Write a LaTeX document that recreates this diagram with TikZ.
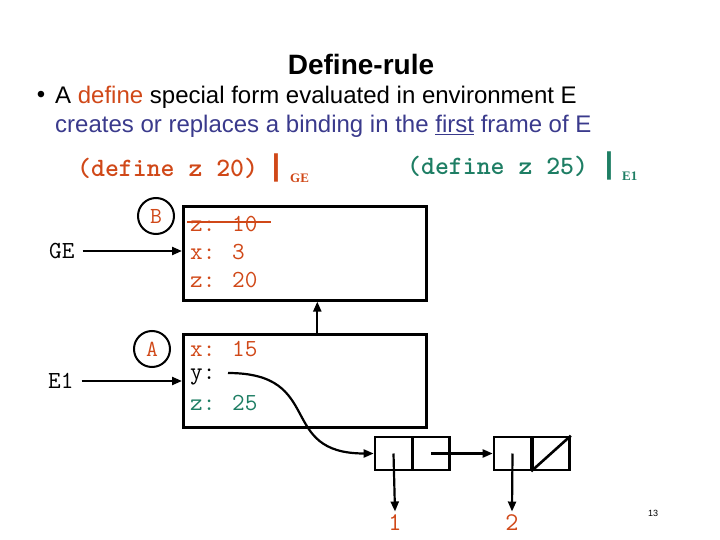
\documentclass[tikz,border=0pt]{standalone}
\usepackage{fontspec}
\setmainfont{Liberation Sans}
\newfontfamily\serifsub{Liberation Serif}
\usetikzlibrary{arrows.meta}
\definecolor{orng}{RGB}{208,72,24}
\definecolor{tealc}{RGB}{30,126,100}
\definecolor{blu}{RGB}{58,58,140}
\tikzset{
  txt/.style={inner sep=0pt, anchor=west},
  code/.style={txt, font=\fontsize{24.5}{26}\selectfont\ttfamily},
  codeb/.style={txt, font=\fontsize{26.5}{28}\selectfont\ttfamily\bfseries},
  frame/.style={draw, line width=2.6pt, anchor=north west, inner sep=0pt},
  cell/.style={draw, line width=2.6pt, minimum width=37pt, minimum height=33pt, inner sep=0pt},
  tag/.style={circle, draw, line width=2pt, minimum size=36pt, inner sep=0pt, text=orng, font=\fontsize{23}{24}\selectfont\ttfamily},
  arr/.style={line width=2.2pt, -{Triangle[length=10pt,width=8pt]}},
}
\begin{document}
\begin{tikzpicture}[x=1pt,y=-1pt]
\useasboundingbox (0,0) rectangle (720,540);
\node[font=\fontsize{28}{32}\selectfont\bfseries] (title) at (361,64) {Define-rule};
\node[font=\fontsize{24}{28}\selectfont] (bul) at (41,97) {\textbullet};
\node[txt, font=\fontsize{24}{28}\selectfont] (l1) at (55,97) {A \textcolor{orng}{define} special form evaluated in environment E};
\node[txt, font=\fontsize{24}{28}\selectfont, text=blu] (l2) at (55,126) {creates or replaces a binding in the \underline{first} frame of E};

\node[codeb, text=orng] (d1) at (77,168) {(define z 20)};
\node[font=\fontsize{30}{32}\selectfont\bfseries, text=orng, inner sep=0pt] (bar1) at (276,168) {|};
\node[txt, font=\fontsize{13}{14}\selectfont\serifsub\bfseries, text=orng] (ge1) at (290,178) {GE};
\node[codeb, text=tealc] (d2) at (407,166) {(define z 25)};
\node[font=\fontsize{30}{32}\selectfont\bfseries, text=tealc, inner sep=0pt] (bar2) at (609,166) {|};
\node[txt, font=\fontsize{13}{14}\selectfont\serifsub\bfseries, text=tealc] (e1s) at (622,176) {E1};

\node[frame, minimum width=243pt, minimum height=94pt] (ge) at (182,205) {};
\node[frame, minimum width=243pt, minimum height=93pt] (e1) at (182,333) {};

\node[tag] (B) at (156,216) {B};
\node[tag] (A) at (152,349) {A};

\node[code, text=orng] (z10) at (190,224) {z: 10};
\draw[orng, line width=2pt] (187,222.5) -- (271,222.5);
\node[code, text=orng] (x3) at (190,252) {x: 3};
\node[code, text=orng] (z20) at (190,280) {z: 20};

\node[code, text=orng] (x15) at (190,349) {x: 15};
\node[code] (yy) at (190,377) {y:};
\node[code, text=tealc] (z25) at (190,403) {z: 25};

\node[code] (gel) at (49,251) {GE};
\node[code] (e1l) at (48,381) {E1};
\draw[arr] (gel.east) ++(8,0) coordinate (gs) -- (gs -| ge.west);
\draw[arr] (e1l.east) ++(8,0) coordinate (es) -- (es -| e1.west);
\draw[arr] ([xshift=12.5pt]e1.north) -- ([xshift=12.5pt]ge.south);

\node[cell] (p1a) at (393.5,453.5) {};
\node[cell] (p1b) at (431,453.5) {};
\node[cell] (p2a) at (512.5,453.5) {};
\node[cell] (p2b) at (551,453.5) {};
\draw[line width=2.6pt] (p2b.south west) -- (p2b.north east);

\coordinate (ys) at (228,373);
\draw[arr] (ys) to[out=0, in=180, looseness=1.5] (p1a.west);
\draw[arr] (p1b.center) -- (p2a.west);

\node[font=\fontsize{25.5}{28}\selectfont\ttfamily, text=orng] (one) at (395,523) {1};
\node[font=\fontsize{25.5}{28}\selectfont\ttfamily, text=orng] (two) at (512,523) {2};
\draw[arr] (p1a.center) -- (one.north);
\draw[arr] (p2a.center) -- (two.north);

\node[font=\fontsize{9}{10}\selectfont] (pg) at (653,513) {13};
\end{tikzpicture}
\end{document}
